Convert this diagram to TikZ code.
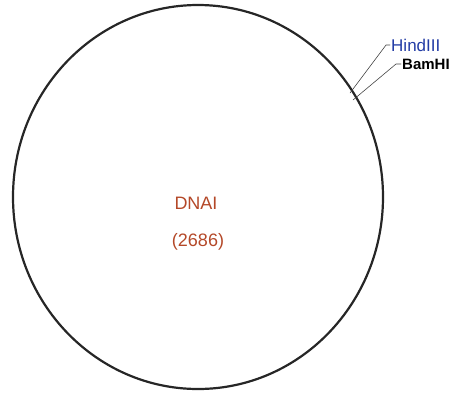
\documentclass[tikz,border=0pt]{standalone}
\usepackage{fontspec}
\setmainfont{Liberation Sans}
\usetikzlibrary{calc}
\definecolor{plasmidbrown}{RGB}{180,72,40}
\definecolor{plasmidblue}{RGB}{35,60,165}
\definecolor{leadergray}{RGB}{70,70,70}

\begin{document}
\begin{tikzpicture}[x=1pt,y=-1pt,line cap=round,line join=round]
 \useasboundingbox (0,0) rectangle (463,392);
 % Ring of the plasmid.
 \draw[black!85,line width=2.2pt]
  (198,197) ellipse[x radius=185,y radius=192];
 \node[plasmidbrown,font=\fontsize{18}{20}\selectfont] (name) at (196,203) {DNAI};
 \node[plasmidbrown,font=\fontsize{18}{20}\selectfont] (size) at (198,242) {(2686)};
 % Cut sites on the ring.
 \coordinate (hindsite) at (350,93);
 \coordinate (bamsite) at (353,100);
 \node[plasmidblue,anchor=west,inner sep=1pt,font=\fontsize{17}{19}\selectfont] (hind) at (390,45) {HindIII};
 \node[black,anchor=west,inner sep=1pt,font=\fontsize{15}{17}\selectfont\bfseries] (bam) at (401,64) {BamHI};
 \draw[leadergray,line width=0.6pt] (hindsite)--($(hind.west)+(-4,0)$)--(hind.west);
 \draw[leadergray,line width=0.6pt] (bamsite)--($(bam.west)+(-5,0)$)--(bam.west);
\end{tikzpicture}
\end{document}
